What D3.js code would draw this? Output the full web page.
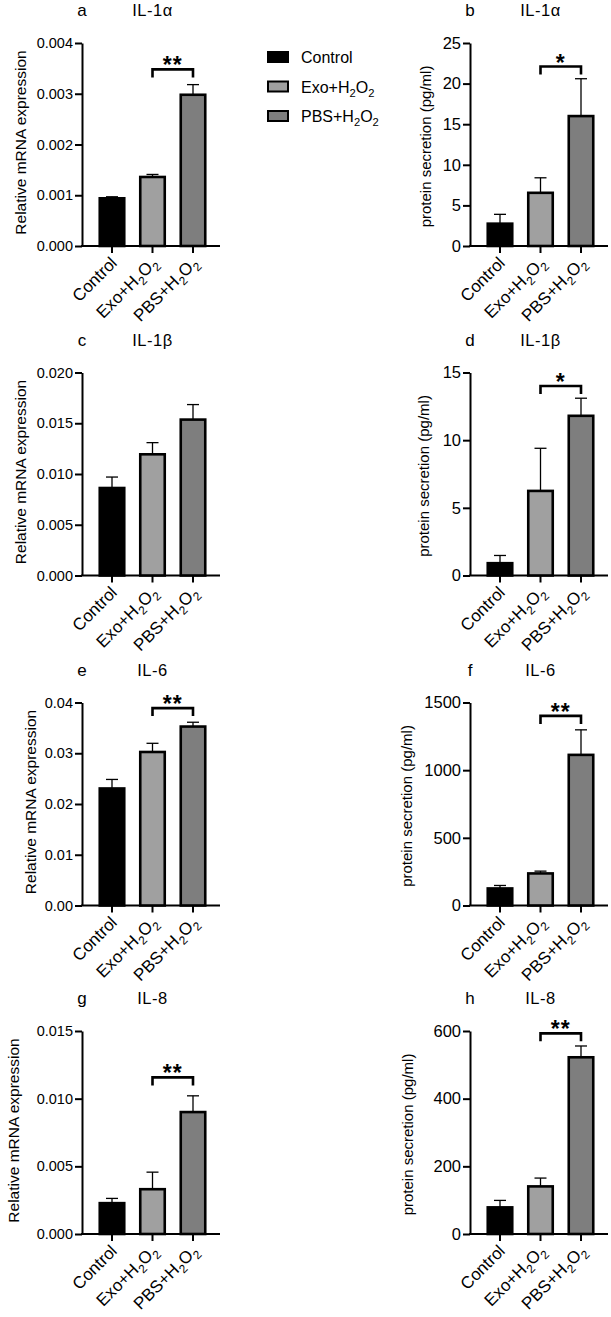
<!DOCTYPE html>
<html>
<head>
<meta charset="utf-8">
<script src="https://cdn.jsdelivr.net/npm/d3@7"></script>
<style>
  body { margin: 0; background: #fff; }
  svg { display: block; font-family: "Liberation Sans", Arial, sans-serif; }
</style>
</head>
<body>
<svg id="chart" width="611" height="1317"></svg>
<script>
// ---------- data ----------
const categories = ["Control", "Exo+H2O2", "PBS+H2O2"];
const groupColors = ["#000000", "#a0a0a0", "#7e7e7e"];

const panelLetters = ["a", "b", "c", "d", "e", "f", "g", "h"];
const panelTitles  = ["IL-1α", "IL-1α", "IL-1β", "IL-1β", "IL-6", "IL-6", "IL-8", "IL-8"];

// means per panel (Control, Exo+H2O2, PBS+H2O2)
const meansA = [0.00094, 0.00136, 0.00298];
const meansB = [2.75, 6.55, 16.0];
const meansC = [0.00862, 0.01194, 0.01536];
const meansD = [0.91, 6.25, 11.8];
const meansE = [0.02306, 0.03025, 0.03526];
const meansF = [126, 237, 1113];
const meansG = [0.00228, 0.00331, 0.00901];
const meansH = [78.7, 140.7, 522.3];

// SEM (upper error bar lengths)
const errA = [0.00003, 0.00005, 0.00020];
const errB = [1.15, 1.85, 4.6];
const errC = [0.00108, 0.00115, 0.00148];
const errD = [0.57, 3.15, 1.3];
const errE = [0.00178, 0.00171, 0.00085];
const errF = [22, 17, 185];
const errG = [0.00035, 0.00126, 0.00120];
const errH = [20.6, 24.6, 33.4];

// y-axis ticks
const ticksA = [0, 0.001, 0.002, 0.003, 0.004];
const ticksB = [0, 5, 10, 15, 20, 25];
const ticksC = [0, 0.005, 0.010, 0.015, 0.020];
const ticksD = [0, 5, 10, 15];
const ticksE = [0, 0.01, 0.02, 0.03, 0.04];
const ticksF = [0, 500, 1000, 1500];
const ticksG = [0, 0.005, 0.010, 0.015];
const ticksH = [0, 200, 400, 600];

const tickLabelsA = ["0.000", "0.001", "0.002", "0.003", "0.004"];
const tickLabelsB = ["0", "5", "10", "15", "20", "25"];
const tickLabelsC = ["0.000", "0.005", "0.010", "0.015", "0.020"];
const tickLabelsD = ["0", "5", "10", "15"];
const tickLabelsE = ["0.00", "0.01", "0.02", "0.03", "0.04"];
const tickLabelsF = ["0", "500", "1000", "1500"];
const tickLabelsG = ["0.000", "0.005", "0.010", "0.015"];
const tickLabelsH = ["0", "200", "400", "600"];

const yTitles = ["Relative mRNA expression", "protein secretion (pg/ml)"];

// significance brackets: Exo+H2O2 vs PBS+H2O2, bracket height (data units), label
const sigA = { level: 0.00348, label: "**" };
const sigB = { level: 22.1, label: "*" };
const sigC = null;
const sigD = { level: 14.0, label: "*" };
const sigE = { level: 0.0389, label: "**" };
const sigF = { level: 1401, label: "**" };
const sigG = { level: 0.01157, label: "**" };
const sigH = { level: 593, label: "**" };

const panels = [
  { means: meansA, err: errA, ticks: ticksA, labels: tickLabelsA, sig: sigA },
  { means: meansB, err: errB, ticks: ticksB, labels: tickLabelsB, sig: sigB },
  { means: meansC, err: errC, ticks: ticksC, labels: tickLabelsC, sig: sigC },
  { means: meansD, err: errD, ticks: ticksD, labels: tickLabelsD, sig: sigD },
  { means: meansE, err: errE, ticks: ticksE, labels: tickLabelsE, sig: sigE },
  { means: meansF, err: errF, ticks: ticksF, labels: tickLabelsF, sig: sigF },
  { means: meansG, err: errG, ticks: ticksG, labels: tickLabelsG, sig: sigG },
  { means: meansH, err: errH, ticks: ticksH, labels: tickLabelsH, sig: sigH },
];

// ---------- layout ----------
const colAxisX = [82, 470];
const rowTop = [43, 372.5, 702.5, 1031];
const plotH = 203;
const colTickFont = [14.5, 16.5];
const colTitleFont = [15.5, 15];
const titleX = [[20, 20, 30, 13], [425, 423, 406, 407]];
const colTitleShift = [-2, 2];
const catFont = 17;

const svg = d3.select("#chart");

function addCategoryText(sel, name, fs) {
  const m = name.match(/^(.*)H2O2$/);
  if (!m) { sel.text(name); return; }
  sel.append("tspan").text(m[1] + "H");
  sel.append("tspan").attr("font-size", fs * 0.7).attr("dy", fs * 0.28).text("2");
  sel.append("tspan").attr("dy", -fs * 0.28).text("O");
  sel.append("tspan").attr("font-size", fs * 0.7).attr("dy", fs * 0.28).text("2");
}

panels.forEach((p, i) => {
  const col = i % 2, row = Math.floor(i / 2);
  const ax = colAxisX[col];
  const top = rowTop[row];
  const zero = top + plotH;
  const tf = colTickFont[col];

  const y = d3.scaleLinear()
    .domain([0, p.ticks[p.ticks.length - 1]])
    .range([zero, top]);
  const x = d3.scaleBand()
    .domain(categories)
    .range([ax + 9.75, ax + 131.25])
    .padding(0);

  const g = svg.append("g");

  // panel letter & title
  g.append("text").attr("x", ax).attr("y", top - 27)
    .attr("text-anchor", "middle").attr("font-size", 17).text(panelLetters[i]);
  g.append("text").attr("x", x(categories[1]) + x.bandwidth() / 2).attr("y", top - 27)
    .attr("text-anchor", "middle").attr("font-size", 16.5).attr("letter-spacing", 0.5)
    .text(panelTitles[i]);

  // y-axis
  const yAxis = d3.axisLeft(y)
    .tickValues(p.ticks)
    .tickFormat((d, k) => p.labels[k])
    .tickSize(7).tickSizeOuter(0).tickPadding(2);
  const ya = g.append("g").attr("transform", `translate(${ax},0)`).call(yAxis);
  ya.attr("font-family", null).attr("font-size", null);
  ya.select(".domain").attr("stroke", "#000").attr("stroke-width", 2);
  ya.selectAll(".tick line").attr("stroke", "#000").attr("stroke-width", 2);
  ya.selectAll(".tick text").attr("font-size", tf).attr("fill", "#000");

  // y title
  g.append("text")
    .attr("transform", `translate(${titleX[col][row]},${(top + zero) / 2 + colTitleShift[col]}) rotate(-90)`)
    .attr("text-anchor", "middle").attr("dominant-baseline", "central")
    .attr("font-size", colTitleFont[col]).text(yTitles[col]);

  // x-axis line and ticks
  g.append("line").attr("x1", ax - 1).attr("x2", ax + 138)
    .attr("y1", zero).attr("y2", zero).attr("stroke", "#000").attr("stroke-width", 2);
  categories.forEach(c => {
    const cx = x(c) + x.bandwidth() / 2;
    g.append("line").attr("x1", cx).attr("x2", cx).attr("y1", zero).attr("y2", zero + 7)
      .attr("stroke", "#000").attr("stroke-width", 2);
    const t = g.append("text")
      .attr("transform", `translate(${cx + 6},${zero + 18}) rotate(-45)`)
      .attr("text-anchor", "end").attr("font-size", catFont);
    addCategoryText(t, c, catFont);
  });

  // error bars (upward only)
  categories.forEach((c, k) => {
    const cx = x(c) + x.bandwidth() / 2;
    const yTop = y(p.means[k] + p.err[k]);
    g.append("line").attr("x1", cx).attr("x2", cx)
      .attr("y1", y(p.means[k])).attr("y2", yTop)
      .attr("stroke", "#000").attr("stroke-width", 1.3);
    g.append("line").attr("x1", cx - 6).attr("x2", cx + 6)
      .attr("y1", yTop).attr("y2", yTop)
      .attr("stroke", "#000").attr("stroke-width", 1.3);
  });

  // bars
  const bw = 24.5;
  g.selectAll("rect.bar").data(categories).enter().append("rect")
    .attr("class", "bar")
    .attr("x", c => x(c) + x.bandwidth() / 2 - bw / 2)
    .attr("width", bw)
    .attr("y", (c, k) => y(p.means[k]))
    .attr("height", (c, k) => zero - y(p.means[k]))
    .attr("fill", (c, k) => groupColors[k])
    .attr("stroke", "#000").attr("stroke-width", 2.6);

  // significance bracket
  if (p.sig) {
    const x1 = x(categories[1]) + x.bandwidth() / 2;
    const x2 = x(categories[2]) + x.bandwidth() / 2;
    const yb = y(p.sig.level);
    g.append("path")
      .attr("d", `M${x1},${yb + 8}V${yb}H${x2}V${yb + 8}`)
      .attr("fill", "none").attr("stroke", "#000").attr("stroke-width", 2.6);
    g.append("text").attr("x", (x1 + x2) / 2).attr("y", yb + 4)
      .attr("text-anchor", "middle").attr("font-size", 23).attr("font-weight", "bold")
      .attr("letter-spacing", 1).text(p.sig.label);
  }
});

// legend
const legend = svg.append("g");
const legY = [57, 86.5, 116];
categories.forEach((c, k) => {
  legend.append("rect").attr("x", 268).attr("y", legY[k] - 5).attr("width", 20).attr("height", 10)
    .attr("fill", groupColors[k]).attr("stroke", "#000").attr("stroke-width", 2);
  const t = legend.append("text").attr("x", 301).attr("y", legY[k] + 6)
    .attr("font-size", 16);
  addCategoryText(t, c, 16);
});
</script>
</body>
</html>
